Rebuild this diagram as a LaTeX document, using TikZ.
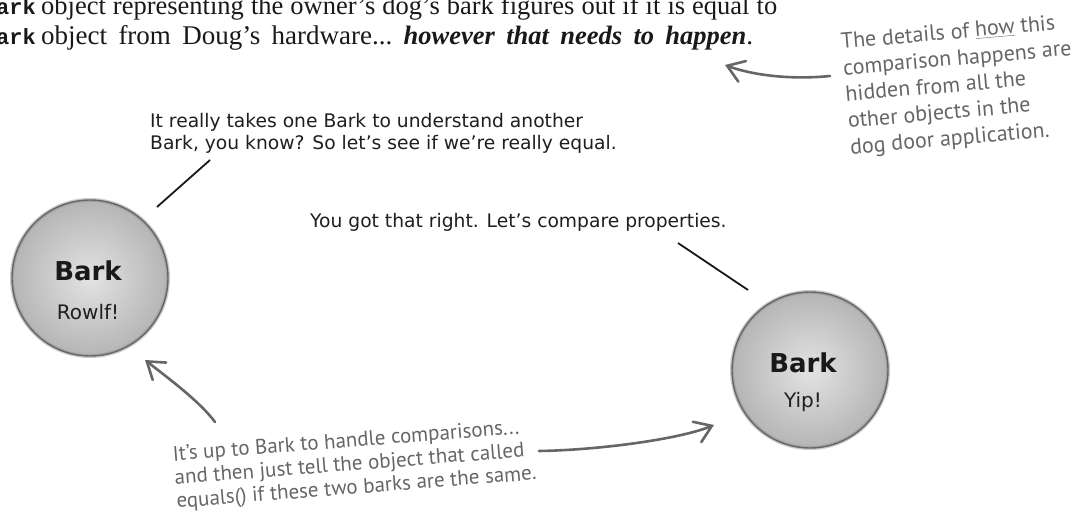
\documentclass[tikz,border=0pt]{standalone}
\usepackage{fontspec}
\setmainfont{Liberation Serif}
\newfontfamily\monof{Liberation Mono}
\newfontfamily\comicf{DejaVu Sans}
\newfontfamily\handf{PT Sans}
\newfontfamily\boldf{DejaVu Sans}
\usetikzlibrary{arrows.meta,calc}
\definecolor{handgray}{HTML}{666666}
\newcommand{\fitline}[2]{\makebox[#1][s]{\frenchspacing\spaceskip=2pt plus 40pt\xspaceskip=2pt plus 40pt\relax #2}}
\begin{document}
\begin{tikzpicture}[x=1pt,y=-1pt,
  serif/.style={font=\fontsize{26.5}{30}\selectfont, inner sep=0pt, text=black!90},
  codeb/.style={font=\monof\bfseries\fontsize{22}{30}\selectfont, inner sep=0pt, text=black!90},
  talk/.style={font=\comicf\fontsize{18.7}{22}\selectfont, inner sep=0pt, align=left, text=black!88},
  hand/.style={font=\handf\fontsize{22}{26.5}\selectfont, text=handgray, inner sep=0pt, align=left},
  handb/.style={font=\handf\fontsize{21}{23.5}\selectfont, text=handgray, inner sep=0pt, align=left},
  arr/.style={draw=handgray, line width=2.6pt, line cap=round, -{Straight Barb[length=16pt,width=22pt,line cap=round]}},
  speech/.style={draw=black!90, line width=1.8pt},
  ball/.style={circle, minimum size=156pt, inner sep=0pt, inner color=gray!22, outer color=gray!58, draw=black!72, line width=1.4pt},
  ballname/.style={font=\boldf\bfseries\fontsize{26}{28}\selectfont, inner sep=0pt, text=black!90},
  ballval/.style={font=\comicf\fontsize{20}{24}\selectfont, inner sep=0pt, text=black!88}
]
\useasboundingbox (0,0) rectangle (1078,526);
\clip (0,0) rectangle (1078,526);
\fill[white] (0,0) rectangle (1078,526);

% top text
\node[codeb, anchor=base east] (b1) at (36,15) {Bark};
\node[serif, anchor=base west] (t1) at (41,15) {\fitline{736pt}{object representing the owner’s dog’s bark figures out if it is equal to}};
\node[codeb, anchor=base east] (b2) at (36,45) {Bark};
\node[serif, anchor=base west] (t2) at (41,45) {\fitline{712pt}{\fontsize{27}{30}\selectfont object from Doug’s hardware... \textbf{\textit{\fontsize{26.5}{30}\selectfont however that needs to happen}}.}};

% right note
\node[hand, rotate=5, anchor=north west] (note) at (840,33) {The details of \underline{how} this\\comparison happens are\\hidden from all the\\other objects in the\\dog door application.};

% dialogues
\node[talk, anchor=north west] (d1) at (150,113) {It really takes one Bark to understand another\\Bark, you know? So let’s see if we’re really equal.};
\node[talk, anchor=base west] (d2) at (310,228) {You got that right. Let’s compare properties.};

% balls
\node[ball] (c1) at (90,278) {};
\draw[black!45, line width=4pt, opacity=.45] (c1.center) circle[radius=78pt];
\node[ballname] (n1) at (88,271) {Bark};
\node[ballval] (v1) at (88,312) {Rowlf!};

\node[ball] (c2) at (810,370) {};
\draw[black!45, line width=4pt, opacity=.45] (c2.center) circle[radius=78pt];
\node[ballname] (n2) at (803,363) {Bark};
\node[ballval] (v2) at (803,402) {Yip!};

% bottom note
\node[handb, rotate=4.5, anchor=north west] (bot) at (172,446) {It’s up to Bark to handle comparisons...\\and then just tell the object that called\\equals() if these two barks are the same.};

% speech lines
\coordinate (s1a) at (210,160);
\coordinate (s1b) at (157,207);
\draw[speech] (s1a) -- (s1b);
\coordinate (s2a) at (678,243);
\coordinate (s2b) at (748,290);
\draw[speech] (s2a) -- (s2b);

% arrows
\coordinate (a1s) at (830,76);
\coordinate (a1e) at (725,65);
\draw[arr] (a1s) .. controls (790,80) and (752,75) .. (a1e);
\coordinate (a2s) at (215,422);
\coordinate (a2e) at (145,360);
\draw[arr] (a2s) .. controls (200,402) and (172,381) .. (a2e);
\coordinate (a3s) at (539,451);
\coordinate (a3e) at (714,425);
\draw[arr] (a3s) .. controls (600,450) and (680,439) .. (a3e);
\end{tikzpicture}
\end{document}
